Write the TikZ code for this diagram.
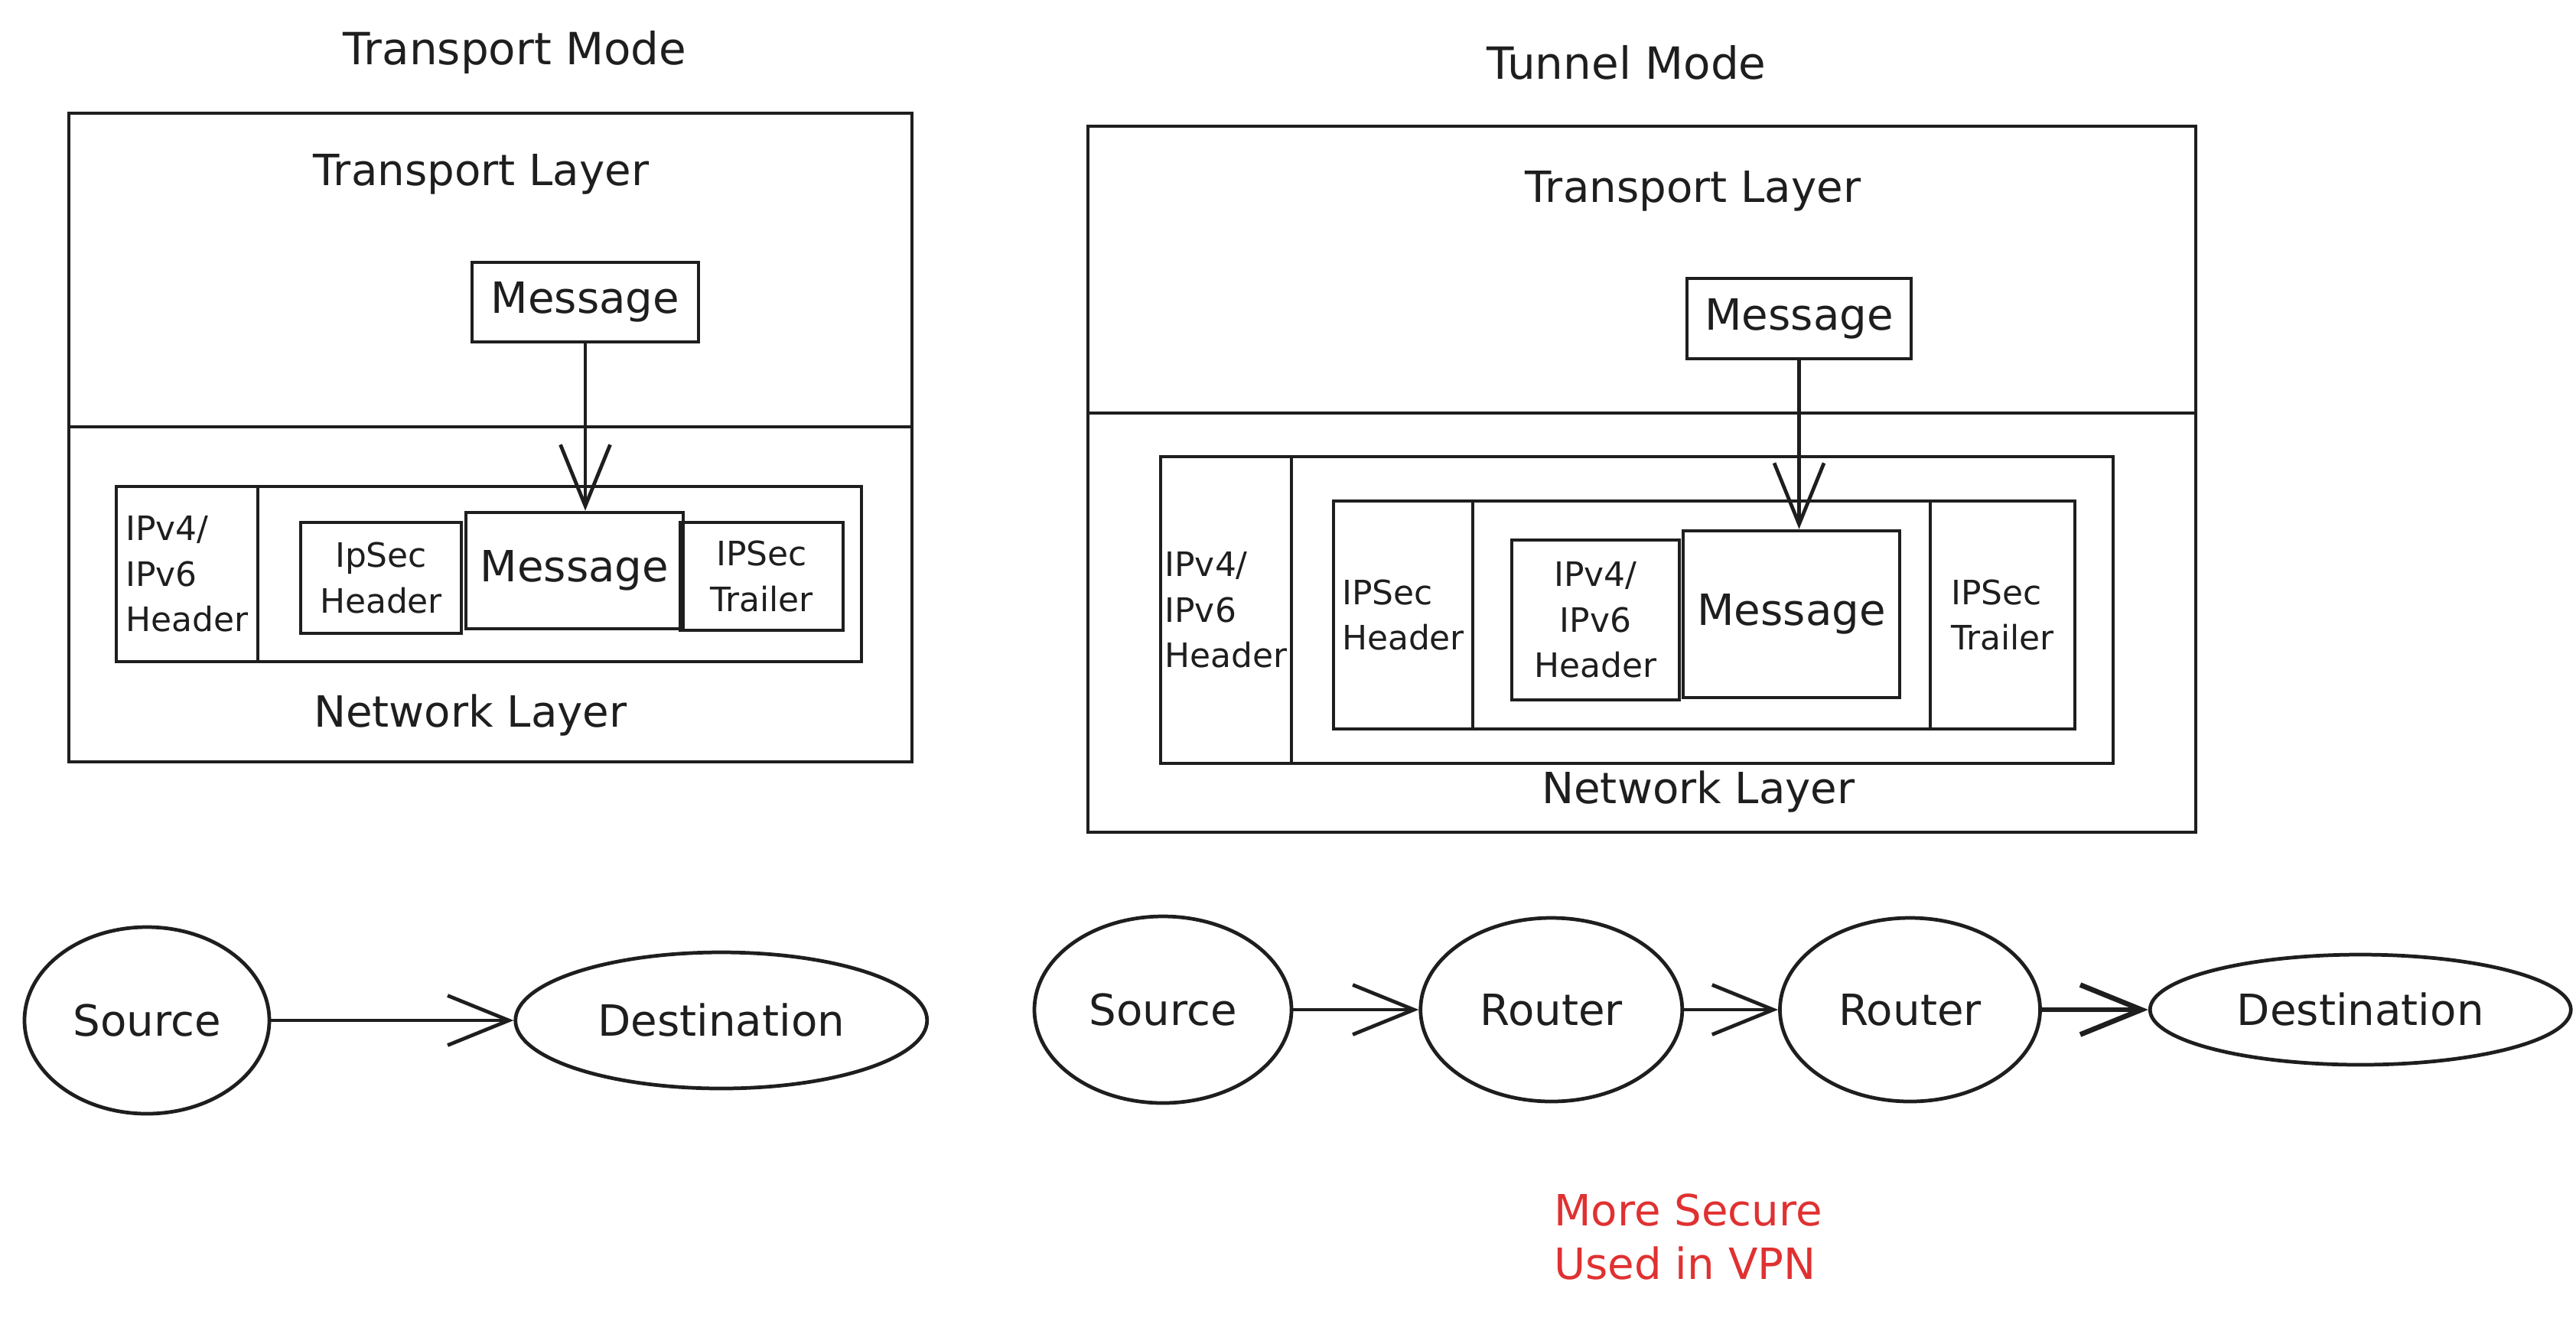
\documentclass[tikz,border=0pt]{standalone}
\usepackage{fontspec}
\setmainfont{DejaVu Sans}
\usetikzlibrary{shapes.geometric,arrows.meta,positioning,calc}
\definecolor{ink}{HTML}{1E1E1E}
\definecolor{notered}{HTML}{E03131}

\begin{document}
\begin{tikzpicture}[
    color=ink, line width=1.35pt,
    box/.style={rectangle, draw, align=center, inner sep=2pt},
    title/.style={font=\fontsize{16.5}{20}\selectfont},
    lbl/.style={font=\fontsize{16}{19}\selectfont},
    small/.style={box, inner sep=1pt, font=\fontsize{12.5}{17}\selectfont},
    host/.style={ellipse, draw, inner sep=1pt, font=\fontsize{16}{19}\selectfont},
    note/.style={font=\fontsize{16}{20}\selectfont, text=notered, align=left, inner sep=0pt},
    flow/.style={-{Straight Barb[length=0.8cm,width=0.65cm]}}
]
    \useasboundingbox (0,0) rectangle (33.67,-17.26);

    % transport mode
    \node[title] (tmode) at (6.73,-0.68) {Transport Mode};
    \node[box, minimum width=11.02cm, minimum height=8.48cm] (tframe) at (6.41,-5.72) {};
    \node[lbl] (tlayer) at (6.29,-2.28) {Transport Layer};
    \node[box, lbl, minimum width=2.96cm, minimum height=1.04cm] (tmsg) at (7.65,-3.95) {Message};
    \coordinate (tcut) at (0,-5.58);
    \draw (tcut -| tframe.west) -- (tcut -| tframe.east);
    \node[box, minimum width=9.74cm, minimum height=2.29cm] (tpkt) at (6.39,-7.505) {};
    \node[small, align=left, minimum width=1.85cm, minimum height=2.29cm] (tip) at (2.445,-7.505) {IPv4/\\IPv6\\Header};
    \node[small, minimum width=2.10cm, minimum height=1.45cm] (tsech) at (4.98,-7.555) {IpSec\\Header};
    \node[box, lbl, minimum width=2.84cm, minimum height=1.52cm] (tpmsg) at (7.51,-7.46) {Message};
    \node[small, minimum width=2.13cm, minimum height=1.41cm] (tsect) at (9.955,-7.535) {IPSec\\Trailer};
    \node[lbl] (tnet) at (6.15,-9.35) {Network Layer};
    \draw[flow] (tmsg.south) -- (tmsg.south |- tpmsg.north);

    % tunnel mode
    \node[title] (umode) at (21.26,-0.82) {Tunnel Mode};
    \node[box, minimum width=14.48cm, minimum height=9.23cm] (uframe) at (21.46,-6.265) {};
    \node[lbl] (ulayer) at (22.13,-2.50) {Transport Layer};
    \node[box, lbl, minimum width=2.93cm, minimum height=1.05cm] (umsg) at (23.515,-4.165) {Message};
    \coordinate (ucut) at (0,-5.40);
    \draw (ucut -| uframe.west) -- (ucut -| uframe.east);
    \node[box, minimum width=12.45cm, minimum height=4.01cm] (upkt) at (21.395,-7.975) {};
    \node[small, align=left, minimum width=1.71cm, minimum height=4.01cm] (uip) at (16.025,-7.975) {IPv4/\\IPv6\\Header};
    \node[box, minimum width=9.69cm, minimum height=2.98cm] (uesp) at (22.275,-8.04) {};
    \node[small, align=left, minimum width=1.82cm, minimum height=2.98cm] (usech) at (18.34,-8.04) {IPSec\\Header};
    \node[small, minimum width=2.19cm, minimum height=2.09cm] (uinip) at (20.855,-8.105) {IPv4/\\IPv6\\Header};
    \node[box, lbl, minimum width=2.83cm, minimum height=2.18cm] (uinmsg) at (23.415,-8.03) {Message};
    \node[small, align=left, minimum width=1.89cm, minimum height=2.98cm] (usect) at (26.175,-8.04) {IPSec\\Trailer};
    \node[lbl] (unet) at (22.20,-10.35) {Network Layer};
    \draw[flow] (umsg.south) -- (umsg.south |- uinmsg.north);

    % hosts
    \node[host, minimum width=3.20cm, minimum height=2.44cm] (lsrc) at (1.92,-13.34) {Source};
    \node[host, minimum width=5.38cm, minimum height=1.78cm, right=3.17cm of lsrc] (ldst) {Destination};
    \draw[flow] (lsrc) -- (ldst);

    \node[host, minimum width=3.36cm, minimum height=2.44cm] (rsrc) at (15.20,-13.20) {Source};
    \node[host, minimum width=3.42cm, minimum height=2.40cm, right=1.64cm of rsrc] (rr1) {Router};
    \node[host, minimum width=3.40cm, minimum height=2.40cm, right=1.23cm of rr1] (rr2) {Router};
    \node[host, minimum width=5.50cm, minimum height=1.44cm, right=1.39cm of rr2] (rdst) {Destination};
    \draw[flow] (rsrc) -- (rr1);
    \draw[flow] (rr1) -- (rr2);
    \draw[flow, line width=1.9pt] (rr2) -- (rdst);

    \node[note, anchor=west] (vpn) at (20.29,-16.17) {More Secure\\Used in VPN};
\end{tikzpicture}
\end{document}
